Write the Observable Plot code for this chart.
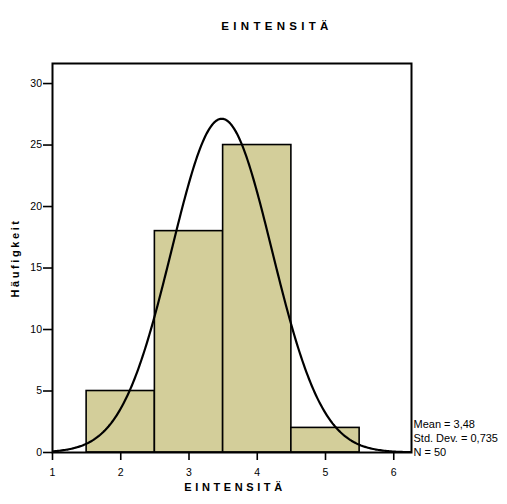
<!DOCTYPE html>
<html><head><meta charset="utf-8">
<script src="https://cdn.jsdelivr.net/npm/d3@7"></script>
<script src="https://cdn.jsdelivr.net/npm/@observablehq/plot@0.6"></script>
<style>body{margin:0;background:#fff}svg{display:block}</style>
</head><body><div id="chart"></div>
<script>
const binStarts = [1.5, 2.5, 3.5, 4.5];
const binEnds = [2.5, 3.5, 4.5, 5.5];
const counts = [5, 18, 25, 2];
const mean = 3.48;
const stdDev = 0.735;
const nObs = 50;
const binWidth = 1;
const xTicks = [1, 2, 3, 4, 5, 6];
const yTicks = [0, 5, 10, 15, 20, 25, 30];
const titleText = "EINTENSITÄ";
const xLabel = "EINTENSITÄ";
const yLabel = "Häufigkeit";
const statsLines = ["Mean = 3,48", "Std. Dev. = 0,735", "N = 50"];

const bins = counts.map((c, i) => ({x1: binStarts[i], x2: binEnds[i], count: c}));
// fitted normal curve from the stated mean, sd and N (as SPSS draws it)
const xs = d3.range(1, 6.27, 0.02);
const curve = xs.map(x => ({x, y: nObs * binWidth / (stdDev * Math.sqrt(2 * Math.PI)) * Math.exp(-0.5 * ((x - mean) / stdDev) ** 2)}));

const font = "'Liberation Sans', Arial, sans-serif";
const chart = Plot.plot({
  width: 507, height: 504,
  marginLeft: 52, marginRight: 96, marginTop: 63, marginBottom: 52,
  style: {fontFamily: font, fontSize: "10.5px", color: "#000", background: "#fff"},
  x: {domain: [1, 6.26], ticks: xTicks, label: null},
  y: {domain: [0, 31.63], ticks: yTicks, label: null},
  marks: [
    Plot.rectY(bins, {x1: "x1", x2: "x2", y: "count", fill: "#d3ce9a", stroke: "#000", strokeWidth: 1.6}),
    Plot.line(curve, {x: "x", y: "y", stroke: "#000", strokeWidth: 2.2, clip: true}),
    Plot.frame({stroke: "#000", strokeWidth: 2}),
    Plot.axisX({ticks: xTicks, tickSize: 8, tickPadding: 8, tickFormat: d => String(d), strokeWidth: 1.6, label: null}),
    Plot.axisY({ticks: yTicks, tickSize: 9, tickPadding: 1.5, tickFormat: d => String(d), strokeWidth: 1.6, label: null}),
    Plot.text([titleText], {frameAnchor: "top", textAnchor: "middle", dx: 45, dy: -42, text: d => d, fontWeight: "bold", fontSize: 11.5}),
    Plot.text([xLabel], {frameAnchor: "bottom", textAnchor: "middle", dx: 3, dy: 38, text: d => d, fontWeight: "bold", fontSize: 11}),
    Plot.text([yLabel], {frameAnchor: "left", textAnchor: "middle", dx: -37, dy: 0, rotate: -90, text: d => d, fontWeight: "bold", fontSize: 11}),
    Plot.text([statsLines.join("\n")], {frameAnchor: "bottom-right", textAnchor: "start", lineAnchor: "bottom", dx: 2, dy: 3, lineHeight: 1.25, text: d => d, fontSize: 11})
  ]
});
// letter spacing like the SPSS bold labels (title, x label, y label in mark order)
const textGroups = chart.querySelectorAll('g[aria-label="text"]');
const spacings = ["4.3px", "3.6px", "2.6px"];
spacings.forEach((ls, i) => {
  if (textGroups[i]) d3.select(textGroups[i]).attr("letter-spacing", ls).selectAll("text").attr("letter-spacing", ls);
});
document.getElementById("chart").appendChild(chart);
</script>
</body></html>
